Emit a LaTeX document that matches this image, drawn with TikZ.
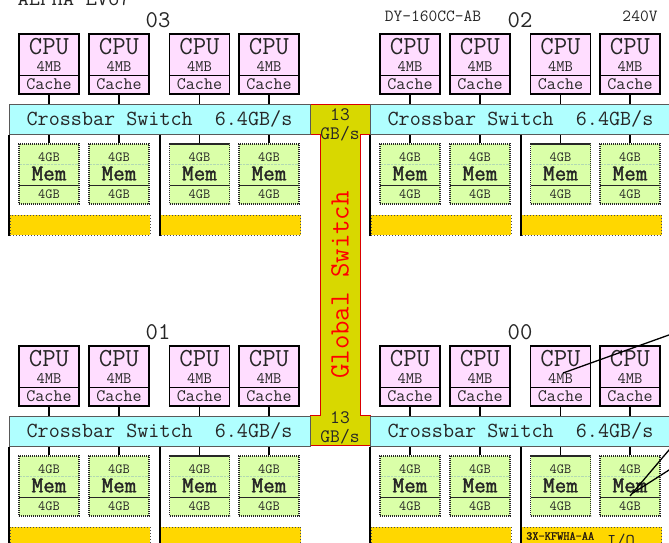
\documentclass[tikz,border=0pt]{standalone}
\usepackage{fontspec}
\setmonofont{Latin Modern Mono}
\newfontfamily\boldmono{Latin Modern Mono}[FakeBold=1.6]
\definecolor{cpupink}{RGB}{255,221,255}
\definecolor{memgreen}{RGB}{218,255,168}
\definecolor{xcyan}{RGB}{176,255,255}
\definecolor{iogold}{RGB}{255,215,0}
\definecolor{gswitch}{RGB}{216,216,0}
\newcommand{\fs}[1]{\fontsize{#1}{#1}\selectfont}
\begin{document}
\begin{tikzpicture}[x=1pt,y=-1pt, font=\ttfamily,
  cpubox/.style={draw=black, fill=cpupink, line width=1.2pt, minimum width=60pt, minimum height=60pt, inner sep=0pt},
  membox/.style={draw=black!85, fill=memgreen, line width=1.1pt, dash pattern=on 1.3pt off 0.7pt, minimum width=60pt, minimum height=60pt, inner sep=0pt},
  xbar/.style={draw=black!65, fill=xcyan, line width=1pt, minimum width=301pt, minimum height=30pt, inner sep=0pt},
  iobar/.style={fill=iogold, draw=black!70, dotted, line width=1pt, minimum width=140pt, minimum height=20pt, inner sep=0pt},
  link/.style={draw=black, line width=1.2pt},
  bus/.style={draw=black, line width=2pt},
  txt/.style={inner sep=0pt, text=black!85},
  ptr/.style={draw=black, line width=1.3pt}
]
\useasboundingbox (0,0) rectangle (669,542);

% title (cut off at top)
\node[txt, anchor=base east, font=\ttfamily\fs{22}] (title) at (131,5) {ALPHA EV67};

% quadrant labels
\node[txt, font=\ttfamily\fs{24}] (l03) at (158,20) {03};
\node[txt, font=\ttfamily\fs{24}] (l02) at (520,20) {02};
\node[txt, font=\ttfamily\fs{24}] (l01) at (158,332) {01};
\node[txt, font=\ttfamily\fs{24}] (l00) at (520,332) {00};
\node[txt, font=\ttfamily\fs{17}] (dy) at (433,16) {DY-160CC-AB};
\node[txt, font=\ttfamily\fs{17}] (volt) at (640,16) {240V};

% global switch
\draw[fill=gswitch, draw=red!85!black, line width=1pt]
  (310,104) -- (370,104) -- (370,134) -- (360,134) -- (360,415) -- (370,415)
  -- (370,445) -- (310,445) -- (310,415) -- (320,415) -- (320,134) -- (310,134) -- cycle;

\foreach \q/\dx/\dy in {03/0/0,02/361/0,01/0/312,00/361/312}{
 \begin{scope}[shift={(\dx,\dy)}]
  \node[xbar] (xb\q) at (159.5,119) {};
  \node[txt, font=\ttfamily\fs{21.5}] (xbt\q) at (159.5,119) {Crossbar Switch\ \ 6.4GB/s};
  \foreach \i/\cx in {1/49,2/119,3/199.5,4/269}{
    \node[cpubox] (cpu\q\i) at (\cx,64) {};
    \draw[line width=1pt] (\cx-30,75) -- (\cx+30,75);
    \node[txt, font=\ttfamily\fs{26}] (cpun\q\i) at (\cx,47) {CPU};
    \node[txt, font=\ttfamily\fs{16}] (cpum\q\i) at (\cx,66) {4MB};
    \node[txt, font=\ttfamily\fs{17.5}] (cpuc\q\i) at (\cx,84) {Cache};
    \node[membox] (mem\q\i) at (\cx,174) {};
    \draw[line width=1pt, black!85] (\cx-30,185) -- (\cx+30,185);
    \draw[green!50!black!30, densely dotted] (\cx-29,164) -- (\cx+29,164);
    \node[txt, font=\ttfamily\fs{14}] (memt\q\i) at (\cx,157.5) {4GB};
    \node[txt, font=\boldmono\fs{22.5}] (memn\q\i) at (\cx,173.5) {Mem};
    \node[txt, font=\ttfamily\fs{14}] (memb\q\i) at (\cx,194.5) {4GB};
    \draw[link] (cpu\q\i.south) -- (cpu\q\i.south |- xb\q.north);
    \draw[link] (mem\q\i.north) -- (mem\q\i.north |- xb\q.south);
  }
  \node[iobar] (ioa\q) at (80,225) {};
  \node[iobar] (iob\q) at (230.5,225) {};
  \draw[bus] (xb\q.south west) -- (xb\q.south west |- ioa\q.south);
  \draw[bus] (xb\q.south west -| iob\q.west) -- (iob\q.south west);
 \end{scope}
}

% global switch labels
\node[txt, font=\ttfamily\fs{19}] (g13a) at (340,115) {13};
\node[txt, font=\ttfamily\fs{19}] (ggba) at (340,133.5) {GB/s};
\node[txt, font=\ttfamily\fs{19}] (g13b) at (340,418) {13};
\node[txt, font=\ttfamily\fs{19}] (ggbb) at (340,436.5) {GB/s};
\node[inner sep=0pt, text=red, rotate=90, font=\ttfamily\fs{28}] (gsw) at (340,285) {Global Switch};

% I/O label
\node[txt, anchor=west, font=\boldmono\fs{12}, text=black!80!brown] (kfw) at (526,536) {3X-KFWHA-AA};
\node[txt, font=\ttfamily\fs{18}] (iot) at (621,541) {I/O};

% pointer lines leaving the picture
\coordinate (p1s) at (563,373);
\coordinate (p1e) at (680,331);
\coordinate (p2s) at (630,496);
\coordinate (p2e) at (680,437);
\coordinate (p3s) at (633,493);
\coordinate (p3e) at (680,463);
\draw[ptr] (p1s) -- (p1e);
\draw[ptr] (p2s) -- (p2e);
\draw[ptr] (p3s) -- (p3e);
\end{tikzpicture}
\end{document}
